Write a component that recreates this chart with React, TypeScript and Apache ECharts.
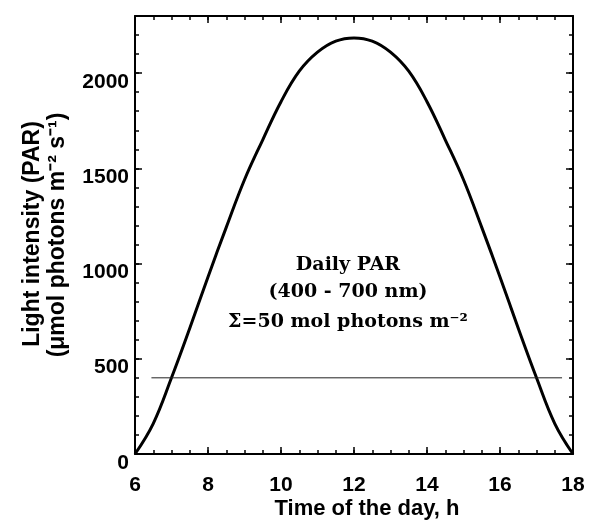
import React, { useEffect, useRef } from "react";
import * as echarts from "echarts";

const hours = [6, 6.5, 7, 7.5, 8, 8.5, 9, 9.5, 10, 10.5, 11, 11.5, 12, 12.5, 13, 13.5, 14, 14.5, 15, 15.5, 16, 16.5, 17, 17.5, 18];
const parValues = [0, 160, 400, 660, 930, 1190, 1440, 1650, 1850, 2010, 2110, 2168, 2185, 2168, 2110, 2010, 1850, 1650, 1440, 1190, 930, 660, 400, 160, 0];

const thresholdValue = 400;
const thresholdStart = 6.45;
const thresholdEnd = 17.7;

const xTitle = "Time of the day, h";
const yTitle1 = "Light intensity (PAR)";
const yTitle2 = "(μmol photons m⁻² s⁻¹)";
const noteLines = ["Daily PAR", "(400 - 700 nm)", "Σ=50 mol photons m⁻²"];

const X_MIN = 6, X_MAX = 18, Y_MIN = 0, Y_MAX = 2300;
const SANS = "'Liberation Sans', Arial, Helvetica, sans-serif";
const SERIF = "'DejaVu Serif', 'Liberation Serif', serif";

const labelStyle = { color: "#000", fontFamily: SANS, fontWeight: "bold", fontSize: 21 };

function xAxisDef(position: string, interval: number, tickLen: number, showLabel: boolean, showLine: boolean) {
  return {
    type: "value", position, min: X_MIN, max: X_MAX, interval,
    axisLine: { show: showLine, lineStyle: { color: "#000", width: 2 } },
    axisTick: { show: true, inside: true, length: tickLen, lineStyle: { color: "#000", width: 1.5 } },
    axisLabel: showLabel ? { show: true, ...labelStyle, margin: 19 } : { show: false },
    splitLine: { show: false },
  };
}

// Right-hand mirror axes span [-Y_MAX, 0] so that their zero sits at the top edge;
// the top x axes snap onto that zero and form the top side of the frame.
function yAxisDef(position: string, interval: number, tickLen: number, showLabel: boolean, showLine: boolean, mirror: boolean) {
  return {
    type: "value", position,
    min: mirror ? -(Y_MAX - Y_MIN) : Y_MIN,
    max: mirror ? 0 : Y_MAX,
    interval,
    axisLine: { show: showLine, lineStyle: { color: "#000", width: 2 } },
    axisTick: { show: true, inside: true, length: tickLen, lineStyle: { color: "#000", width: 1.5 } },
    axisLabel: showLabel
      ? {
          show: true, ...labelStyle, margin: 6, verticalAlign: "top", lineHeight: 14,
          formatter: (v: number) => (v % 500 === 0 && v <= 2000 ? String(v) : ""),
        }
      : { show: false },
    splitLine: { show: false },
  };
}

export default function App() {
  const ref = useRef<HTMLDivElement>(null);
  useEffect(() => {
    if (!ref.current) return;
    const chart = echarts.init(ref.current, undefined, { renderer: "svg" });
    const noteX = 348;
    chart.setOption({
      animation: false,
      grid: { left: 135, right: 17, top: 16, bottom: 68 },
      xAxis: [
        xAxisDef("bottom", 2, 7, true, true),
        xAxisDef("bottom", 0.5, 4, false, false),
        xAxisDef("top", 2, 7, false, true),
        xAxisDef("top", 0.5, 4, false, false),
      ],
      yAxis: [
        yAxisDef("left", 500, 7, true, true, false),
        yAxisDef("left", 100, 4, false, false, false),
        yAxisDef("right", 500, 7, false, true, true),
        yAxisDef("right", 100, 4, false, false, true),
      ],
      series: [
        {
          type: "line",
          data: hours.map((h, i) => [h, parValues[i]]),
          smooth: 0.4,
          symbol: "none",
          lineStyle: { color: "#000", width: 3 },
        },
        {
          type: "line",
          data: [[thresholdStart, thresholdValue], [thresholdEnd, thresholdValue]],
          symbol: "none",
          lineStyle: { color: "#222", width: 1 },
        },
      ],
      graphic: [
        {
          type: "text", x: 367, y: 507,
          style: { text: xTitle, fill: "#000", font: `bold 22px ${SANS}`, align: "center", verticalAlign: "middle", textAlign: "center", textVerticalAlign: "middle" },
        },
        {
          type: "text", x: 31, y: 234, rotation: Math.PI / 2,
          style: { text: yTitle1, fill: "#000", font: `bold 23px ${SANS}`, align: "center", verticalAlign: "middle", textAlign: "center", textVerticalAlign: "middle" },
        },
        {
          type: "text", x: 56, y: 235, rotation: Math.PI / 2,
          style: { text: yTitle2, fill: "#000", font: `bold 23px ${SANS}`, align: "center", verticalAlign: "middle", textAlign: "center", textVerticalAlign: "middle" },
        },
        ...noteLines.map((t, i) => ({
          type: "text", x: noteX, y: [263, 290, 320][i],
          style: { text: t, fill: "#000", font: `bold 19px ${SERIF}`, align: "center", verticalAlign: "middle", textAlign: "center", textVerticalAlign: "middle" },
        })),
      ],
    });
    return () => chart.dispose();
  }, []);
  return <div ref={ref} style={{ position: "fixed", left: 0, top: 0, width: 590, height: 522 }} />;
}
